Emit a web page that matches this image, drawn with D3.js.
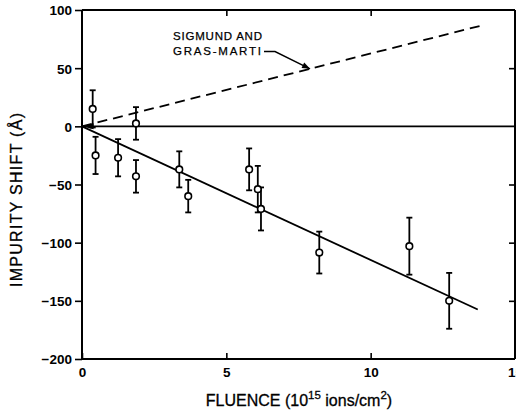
<!DOCTYPE html>
<html>
<head>
<meta charset="utf-8">
<script src="https://cdn.jsdelivr.net/npm/d3@7"></script>
<style>
  html, body { margin: 0; padding: 0; background: #fff; }
  svg text { font-family: "Liberation Sans", Arial, sans-serif; fill: #000; }
</style>
</head>
<body>
<svg id="chart" width="516" height="412"></svg>
<script>
// Data
const fluence = [0.37, 0.47, 1.25, 1.87, 1.87, 3.37, 3.68, 5.79, 6.09, 6.2, 8.22, 11.34, 12.72];
const shift   = [15, -25, -27, 2.5, -43, -37, -60, -37, -54, -71, -108.5, -103, -150];
const errs    = [16, 16, 16, 14, 14, 15.5, 14, 18, 20, 18.5, 18, 24.5, 24];
const fitLine = [[0, 0], [13.71, -157.5]];
const theoryLine = [[0, 0], [13.93, 87.2]];
const xTicks = [0, 5, 10, 15];
const yTicks = [100, 50, 0, -50, -100, -150, -200];
const annotation = ["SIGMUND AND", "GRAS-MARTI"];

const svg = d3.select("#chart");
const x = d3.scaleLinear().domain([0, 15]).range([82, 515]);
const y = d3.scaleLinear().domain([-200, 100]).range([359, 10]);

const axisStroke = 2;

// frame
const g = svg.append("g");
g.append("line").attr("x1", x(0)).attr("x2", x(0)).attr("y1", y(100)).attr("y2", y(-200))
  .attr("stroke", "#000").attr("stroke-width", axisStroke);
g.append("line").attr("x1", x(0)).attr("x2", x(15)).attr("y1", y(-200)).attr("y2", y(-200))
  .attr("stroke", "#000").attr("stroke-width", axisStroke);
g.append("line").attr("x1", x(0)).attr("x2", x(15)).attr("y1", y(100)).attr("y2", y(100))
  .attr("stroke", "#000").attr("stroke-width", axisStroke);
g.append("line").attr("x1", x(15)).attr("x2", x(15)).attr("y1", y(100)).attr("y2", y(-200))
  .attr("stroke", "#000").attr("stroke-width", axisStroke);

// left axis (outward ticks)
const leftAxis = d3.axisLeft(y).tickValues(yTicks).tickSize(7).tickPadding(3);
const la = svg.append("g").attr("transform", `translate(${x(0)},0)`).call(leftAxis);
la.select(".domain").remove();
la.selectAll(".tick line").attr("stroke-width", 1.6);
la.selectAll(".tick text").attr("font-size", 13.5).attr("font-weight", "bold").attr("dy", "0.36em");

// bottom axis (inward ticks)
const bottomAxis = d3.axisBottom(x).tickValues(xTicks).tickSize(-6).tickPadding(8);
const ba = svg.append("g").attr("transform", `translate(0,${y(-200)})`).call(bottomAxis);
ba.select(".domain").remove();
ba.selectAll(".tick line").attr("stroke-width", 1.6);
ba.selectAll(".tick text").attr("font-size", 13.5).attr("font-weight", "bold");

// top axis (inward ticks)
const ta = svg.append("g").attr("transform", `translate(0,${y(100)})`)
  .call(d3.axisTop(x).tickValues([5, 10]).tickSize(-6).tickFormat(""));
ta.select(".domain").remove();
ta.selectAll(".tick line").attr("stroke-width", 1.6);

// right axis (inward ticks)
const ra = svg.append("g").attr("transform", `translate(${x(15)},0)`)
  .call(d3.axisRight(y).tickValues([50, -50, -100, -150]).tickSize(-6).tickFormat(""));
ra.select(".domain").remove();
ra.selectAll(".tick line").attr("stroke-width", 1.6);

// zero line
svg.append("line").attr("x1", x(0)).attr("x2", x(15)).attr("y1", y(0)).attr("y2", y(0))
  .attr("stroke", "#000").attr("stroke-width", 1.6);

const line = d3.line().x(d => x(d[0])).y(d => y(d[1]));
svg.append("path").attr("d", line(fitLine)).attr("fill", "none")
  .attr("stroke", "#000").attr("stroke-width", 1.8);
svg.append("path").attr("d", line(theoryLine)).attr("fill", "none")
  .attr("stroke", "#000").attr("stroke-width", 1.8).attr("stroke-dasharray", "10,6");

// little wedge at origin
svg.append("path")
  .attr("d", `M${x(0)},${y(0)} L${x(0.4)},${y(0) - 3} L${x(0.4)},${y(0) + 3} Z`)
  .attr("fill", "#000");

// error bars and markers
const pts = fluence.map((f, i) => ({ f, s: shift[i], e: errs[i] }));
const eb = svg.append("g").attr("stroke", "#000").attr("stroke-width", 1.8);
pts.forEach(p => {
  eb.append("line").attr("x1", x(p.f)).attr("x2", x(p.f)).attr("y1", y(p.s + p.e)).attr("y2", y(p.s - p.e));
  eb.append("line").attr("x1", x(p.f) - 3).attr("x2", x(p.f) + 3).attr("y1", y(p.s + p.e)).attr("y2", y(p.s + p.e));
  eb.append("line").attr("x1", x(p.f) - 3).attr("x2", x(p.f) + 3).attr("y1", y(p.s - p.e)).attr("y2", y(p.s - p.e));
});
svg.append("g").selectAll("circle").data(pts).join("circle")
  .attr("cx", d => x(d.f)).attr("cy", d => y(d.s)).attr("r", 3.3)
  .attr("fill", "#fff").attr("stroke", "#000").attr("stroke-width", 1.6);

// annotation
const ann = svg.append("g");
annotation.forEach((t, i) => {
  ann.append("text").attr("x", 173).attr("y", 40 + i * 14.5)
    .attr("font-size", 11.5).attr("stroke", "#000").attr("stroke-width", 0.25)
    .attr("textLength", i === 0 ? 89 : 88).text(t);
});
const arrowTip = [x(7.9), y(6.26 * 7.9)];
ann.append("path")
  .attr("d", `M264,51.5 L275,51.5 L${arrowTip[0]},${arrowTip[1]}`)
  .attr("fill", "none").attr("stroke", "#000").attr("stroke-width", 1.4);
{
  const ang = Math.atan2(arrowTip[1] - 51.5, arrowTip[0] - 275);
  const L = 8, W = 3;
  const bx = arrowTip[0] - L * Math.cos(ang), by = arrowTip[1] - L * Math.sin(ang);
  ann.append("path")
    .attr("d", `M${arrowTip[0]},${arrowTip[1]} L${bx - W * Math.sin(ang)},${by + W * Math.cos(ang)} L${bx + W * Math.sin(ang)},${by - W * Math.cos(ang)} Z`)
    .attr("fill", "#000");
}

// axis titles
svg.append("text").attr("transform", "translate(22,200) rotate(-90)")
  .attr("text-anchor", "middle").attr("font-size", 16)
  .attr("stroke", "#000").attr("stroke-width", 0.3)
  .attr("textLength", 174).text("IMPURITY SHIFT (Å)");

const xt = svg.append("text").attr("x", 299).attr("y", 406).attr("text-anchor", "middle")
  .attr("font-size", 16).attr("stroke", "#000").attr("stroke-width", 0.3);
xt.append("tspan").text("FLUENCE (10");
xt.append("tspan").attr("font-size", 11.5).attr("dy", -7).text("15");
xt.append("tspan").attr("dy", 7).text(" ions/cm");
xt.append("tspan").attr("font-size", 11.5).attr("dy", -7).text("2");
xt.append("tspan").attr("dy", 7).text(")");
</script>
</body>
</html>
